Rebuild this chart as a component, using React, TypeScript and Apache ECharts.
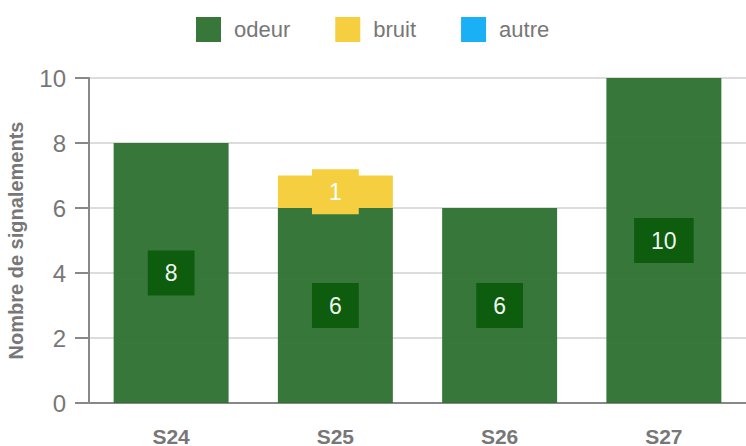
import React, { useEffect, useRef } from "react";
import * as echarts from "echarts";

const categories = ["S24", "S25", "S26", "S27"];
const odeur = [8, 6, 6, 10];
const bruit = [null, 1, null, null];
const autre = [null, null, null, null];
const yTicks = { min: 0, max: 10, interval: 2 };

const FONT = "'Liberation Sans', Arial, sans-serif";

export default function App() {
  const ref = useRef<HTMLDivElement>(null);
  useEffect(() => {
    const chart = echarts.init(ref.current!, null, { renderer: "svg" });
    const label = (bg: string) => ({
      show: true,
      position: "inside",
      color: "#ffffff",
      fontSize: 23,
      fontFamily: FONT,
      backgroundColor: bg,
      padding: [11, 17, 11, 17],
    });
    chart.setOption({
      animation: false,
      textStyle: { fontFamily: FONT },
      legend: {
        top: 17,
        left: 196,
        padding: 0,
        itemWidth: 25,
        itemHeight: 25,
        itemGap: 45,
        icon: "rect",
        textStyle: { fontSize: 22, color: "#777", fontFamily: FONT, padding: [0, 0, 0, 8] },
        data: ["odeur", "bruit", "autre"],
      },
      grid: { left: 89, right: 0, top: 78, bottom: 43, containLabel: false, outerBoundsMode: "none" },
      xAxis: {
        type: "category",
        data: categories,
        axisLine: { lineStyle: { color: "#888", width: 2 } },
        axisTick: { alignWithLabel: true, length: 12, lineStyle: { color: "#888", width: 2 } },
        axisLabel: { fontSize: 21, lineHeight: 18, fontWeight: "bold", color: "#777", margin: 24, fontFamily: FONT },
      },
      yAxis: {
        type: "value",
        min: yTicks.min,
        max: yTicks.max,
        interval: yTicks.interval,
        name: "Nombre de signalements",
        nameLocation: "middle",
        nameGap: 63,
        nameTextStyle: { fontSize: 20, fontWeight: "bold", color: "#777", fontFamily: FONT },
        axisLine: { show: true, lineStyle: { color: "#888", width: 2 } },
        axisTick: { show: true, length: 14, lineStyle: { color: "#888", width: 2 } },
        axisLabel: { fontSize: 24, color: "#777", margin: 23, fontFamily: FONT },
        splitLine: { lineStyle: { color: "#dcdcdc", width: 2 } },
      },
      series: [
        {
          name: "odeur",
          type: "bar",
          stack: "s",
          barWidth: "70%",
          data: odeur,
          itemStyle: { color: "#2f7232", opacity: 0.96 },
          label: label("#0d5c0d"),
        },
        {
          name: "bruit",
          type: "bar",
          stack: "s",
          data: bruit,
          itemStyle: { color: "#f5cf40" },
          label: label("#f5cf40"),
        },
        {
          name: "autre",
          type: "bar",
          stack: "s",
          data: autre,
          itemStyle: { color: "#1ab0f5" },
          label: label("#1ab0f5"),
        },
      ],
    });
    return () => chart.dispose();
  }, []);
  return <div ref={ref} style={{ width: 746, height: 446, position: "absolute", left: 0, top: 0 }} />;
}
